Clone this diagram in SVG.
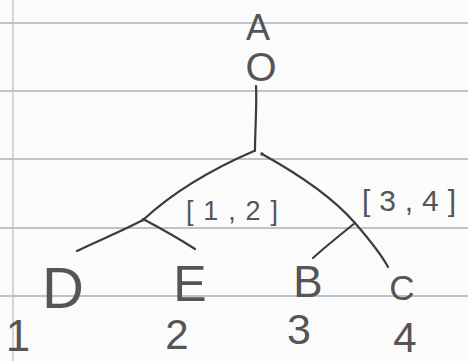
<svg xmlns="http://www.w3.org/2000/svg" width="468" height="361" viewBox="0 0 468 361">
<style>
.rule{stroke:#a9b1ba;stroke-width:1.3}
.pen{fill:none;stroke:#3c3c3c;stroke-width:2.2;stroke-linecap:round;stroke-linejoin:round}
text{font-family:"Liberation Sans","DejaVu Sans",sans-serif;fill:#555;text-anchor:middle}
</style>
<rect width="468" height="361" fill="#fbfbfb"/>
<g id="paper">
<line class="rule" x1="0" y1="23" x2="468" y2="23"/>
<line class="rule" x1="0" y1="91" x2="468" y2="91"/>
<line class="rule" x1="0" y1="159" x2="468" y2="159"/>
<line class="rule" x1="0" y1="228" x2="468" y2="228"/>
<line class="rule" x1="0" y1="296" x2="468" y2="296"/>
<line x1="13" y1="0" x2="13" y2="361" stroke="#b7bcc4" stroke-width="1.2"/>
</g>
<g id="connectors">
<path class="pen" d="M256 86 C257 105 255 130 255 151"/>
<path class="pen" d="M254 151 C210 170 170 195 143 220 C120 232 95 242 77 251"/>
<path class="pen" d="M143 219 C160 228 178 238 195 249"/>
<path class="pen" d="M262 154 C300 175 335 200 355 223 C368 238 380 252 388 267"/>
<path class="pen" d="M355 223 C340 235 325 247 313 258"/>
</g>
<g id="node-A"><text x="258" y="40" font-size="36">A</text></g>
<g id="node-O"><text x="261" y="81" font-size="40">O</text></g>
<g id="node-root"><circle cx="262" cy="154" r="1.8" fill="#444"/></g>
<g id="node-left"><circle cx="143" cy="220" r="1.5" fill="#444"/></g>
<g id="label-12"><text x="232" y="220" font-size="27" textLength="92" lengthAdjust="spacing">[1,2]</text></g>
<g id="label-34"><text x="409" y="211" font-size="30" textLength="94" lengthAdjust="spacing">[3,4]</text></g>
<g id="node-D"><text x="63" y="308" font-size="58">D</text></g>
<g id="node-E"><text x="190" y="301" font-size="50">E</text></g>
<g id="node-B"><text x="308" y="297" font-size="44">B</text></g>
<g id="node-C"><text x="402" y="300" font-size="35">C</text></g>
<g id="num-1"><text x="18" y="351" font-size="44">1</text></g>
<g id="num-2"><text x="177" y="349" font-size="42">2</text></g>
<g id="num-3"><text x="299" y="344" font-size="43">3</text></g>
<g id="num-4"><text x="405" y="352" font-size="42">4</text></g>
</svg>
